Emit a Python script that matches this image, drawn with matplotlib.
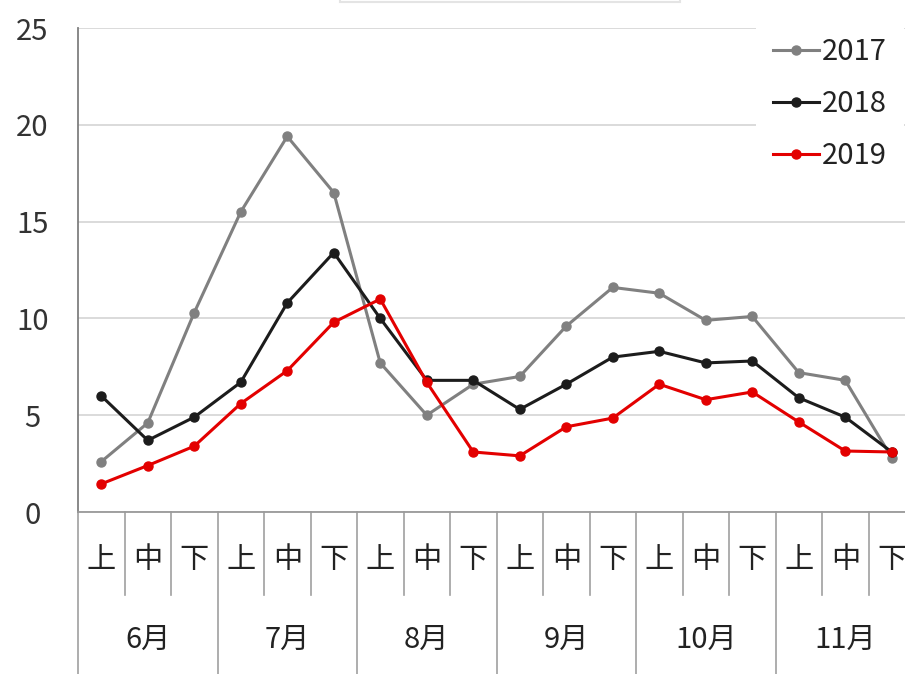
import matplotlib
matplotlib.use("Agg")
import matplotlib.pyplot as plt
import matplotlib.transforms as mtransforms
from matplotlib.patches import Rectangle

plt.rcParams['font.family'] = ['Noto Sans CJK SC', 'DejaVu Sans']

months = ['6月', '7月', '8月', '9月', '10月', '11月']
dekads = ['上', '中', '下']
years = ['2017', '2018', '2019']

v2017 = [2.6, 4.6, 10.3, 15.5, 19.4, 16.5, 7.7, 5.0, 6.6, 7.0, 9.6, 11.6, 11.3, 9.9, 10.1, 7.2, 6.8, 2.8]
v2018 = [6.0, 3.7, 4.9, 6.7, 10.8, 13.4, 10.0, 6.8, 6.8, 5.3, 6.6, 8.0, 8.3, 7.7, 7.8, 5.9, 4.9, 3.1]
v2019 = [1.45, 2.4, 3.4, 5.6, 7.3, 9.8, 11.0, 6.7, 3.1, 2.9, 4.4, 4.85, 6.6, 5.8, 6.2, 4.65, 3.15, 3.1]

colors = ['#808080', '#1c1c1c', '#e30000']

fig = plt.figure(figsize=(9.05, 6.74), dpi=100)
# axes go a bit past the right edge like in the cropped picture
ax = fig.add_axes([78/905, 162/674, 837/905, 484/674])

# bit of the title box cut off at the top
fig.patches.append(Rectangle((340/905, 672/674), 340/905, 0.05, transform=fig.transFigure,
                             facecolor='white', edgecolor='#e4e4e4', lw=1.5))

x = list(range(len(v2017)))
for vals, lab, c in zip([v2017, v2018, v2019], years, colors):
    ax.plot(x, vals, color=c, lw=2.2, marker='o', ms=6.5, label=lab, zorder=3)

ax.set_xlim(-0.5, len(x) - 0.5)
ax.set_ylim(0, 25)
ax.set_yticks([0, 5, 10, 15, 20, 25])
ax.yaxis.grid(True, color='#d4d4d4', lw=1.2)
ax.set_axisbelow(True)
for s in ['top', 'right']:
    ax.spines[s].set_visible(False)
ax.spines['left'].set_color('#7f7f7f')
ax.spines['left'].set_linewidth(1.3)
ax.spines['bottom'].set_color('#9a9a9a')
ax.spines['bottom'].set_linewidth(1.3)
ax.tick_params(axis='y', length=0, pad=33, labelsize=21, labelcolor='#333333')
for t in ax.get_yticklabels():
    t.set_horizontalalignment('center')
ax.set_xticks([])

# two level category axis below the plot
trans = mtransforms.blended_transform_factory(ax.transData, ax.transAxes)
n = len(x)
for i in range(n + 1):
    if i % 3 == 0:
        ax.plot([i - 0.5, i - 0.5], [0, -0.35], transform=trans, color='#a0a0a0', lw=1.2, clip_on=False)
    else:
        ax.plot([i - 0.5, i - 0.5], [0, -0.172], transform=trans, color='#a0a0a0', lw=1.2, clip_on=False)
for i in range(n):
    ax.text(i, -0.099, dekads[i % 3], transform=trans, ha='center', va='center', fontsize=21, color='#222222')
for j, m in enumerate(months):
    ax.text(3 * j + 1, -0.265, m, transform=trans, ha='center', va='center', fontsize=21, color='#222222')

leg = ax.legend(loc='upper right', bbox_to_anchor=(904/905, 654/674), bbox_transform=fig.transFigure,
                frameon=True, facecolor='white', edgecolor='none', framealpha=1,
                fontsize=21, handlelength=1.55, handletextpad=0.1, labelspacing=0.75,
                borderpad=0.6, borderaxespad=0.0)
for t in leg.get_texts():
    t.set_color('#222222')

fig.savefig('out.png', dpi=100)
